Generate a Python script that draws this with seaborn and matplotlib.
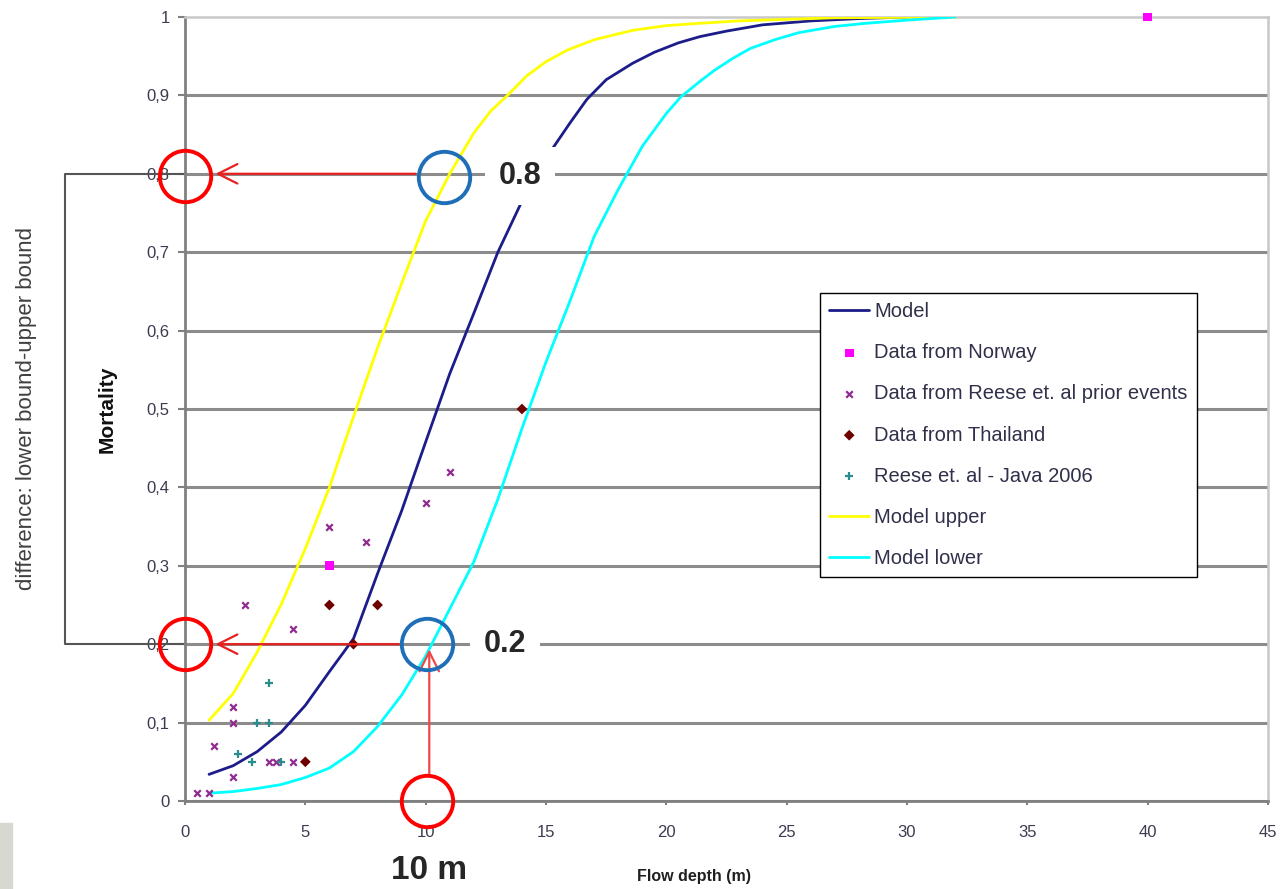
import numpy as np
import pandas as pd
import matplotlib.pyplot as plt
import seaborn as sns
from matplotlib.patches import Rectangle

# curves
model_x = [1, 2, 3, 4, 5, 6, 7, 8, 9, 10, 11, 12, 13, 14, 15, 16, 16.7, 17.5, 18.6, 19.5, 20.5, 21.4, 22.5,
           24, 26, 28, 30]
model_y = [0.034, 0.045, 0.063, 0.088, 0.122, 0.165, 0.207, 0.29, 0.37, 0.458, 0.545, 0.622, 0.70, 0.765,
           0.82, 0.865, 0.895, 0.92, 0.941, 0.955, 0.967, 0.975, 0.982, 0.99, 0.995, 0.998, 1.0]
upper_x = [1, 2, 3, 4, 5, 6, 7, 8, 9, 10, 11, 12, 12.7, 13.4, 14.2, 15, 15.9, 17, 18.6, 20, 21.4, 23, 25,
           27, 32]
upper_y = [0.103, 0.137, 0.19, 0.251, 0.322, 0.40, 0.49, 0.578, 0.66, 0.74, 0.80, 0.852, 0.88, 0.90,
           0.925, 0.943, 0.958, 0.971, 0.983, 0.989, 0.992, 0.995, 0.997, 0.999, 1.0]
lower_x = [1, 2, 3, 4, 5, 6, 7, 8, 9, 10, 11, 12, 13, 14, 15, 16, 17, 18, 19, 20, 20.6, 21.4, 22, 22.8,
           23.5, 24.5, 25.5, 27, 28.3, 30, 32]
lower_y = [0.01, 0.012, 0.016, 0.021, 0.03, 0.042, 0.063, 0.095, 0.135, 0.185, 0.245, 0.305, 0.385,
           0.475, 0.56, 0.638, 0.72, 0.78, 0.835, 0.877, 0.898, 0.918, 0.932, 0.948, 0.96, 0.971, 0.98,
           0.988, 0.992, 0.996, 1.0]

# observations
norway_x = [6, 40]
norway_y = [0.30, 1.0]
reese_x = [0.5, 1.0, 1.2, 2.0, 2.0, 2.0, 2.5, 3.5, 3.8, 4.5, 4.5, 6.0, 7.5, 10.0, 11.0]
reese_y = [0.01, 0.01, 0.07, 0.12, 0.10, 0.03, 0.25, 0.05, 0.05, 0.05, 0.22, 0.35, 0.33, 0.38, 0.42]
thai_x = [5, 6, 7, 8, 14]
thai_y = [0.05, 0.25, 0.20, 0.25, 0.50]
java_x = [2.2, 2.8, 3.0, 3.5, 3.5, 4.0]
java_y = [0.06, 0.05, 0.10, 0.10, 0.15, 0.05]

x_ticks = [0, 5, 10, 15, 20, 25, 30, 35, 40, 45]
y_ticks = [0, 0.1, 0.2, 0.3, 0.4, 0.5, 0.6, 0.7, 0.8, 0.9, 1.0]
y_ticklabels = ['0', '0,1', '0,2', '0,3', '0,4', '0,5', '0,6', '0,7', '0,8', '0,9', '1']

sns.set_theme(style='white')
plt.rcParams['font.family'] = ['Liberation Sans', 'DejaVu Sans']

fig = plt.figure(figsize=(12.85, 8.89), dpi=100)
ax = fig.add_axes([185 / 1285, 1 - 801 / 889, 1083 / 1285, 784 / 889])

sns.lineplot(x=model_x, y=model_y, ax=ax, color='#1c1c8a', lw=2.0, label='Model', zorder=3)
sns.lineplot(x=upper_x, y=upper_y, ax=ax, color='#ffff00', lw=2.0, label='Model upper', zorder=3)
sns.lineplot(x=lower_x, y=lower_y, ax=ax, color='#00ffff', lw=2.0, label='Model lower', zorder=3)

sns.scatterplot(x=norway_x, y=norway_y, ax=ax, marker='s', s=40, color='#ff00ff', edgecolor='none',
                label='Data from Norway', zorder=4, clip_on=False)
sns.scatterplot(x=reese_x, y=reese_y, ax=ax, marker='x', s=22, color='#8e2a8e', linewidth=1.6,
                label='Data from Reese et. al prior events', zorder=4)
sns.scatterplot(x=thai_x, y=thai_y, ax=ax, marker='D', s=30, color='#6e0000', edgecolor='none',
                label='Data from Thailand', zorder=4)
sns.scatterplot(x=java_x, y=java_y, ax=ax, marker='+', s=30, color='#2a8c8c', linewidth=1.6,
                label='Reese et. al - Java 2006', zorder=4)

ax.set_xlim(0, 45)
ax.set_ylim(0, 1)
ax.set_xticks(x_ticks)
ax.set_yticks(y_ticks)
ax.set_yticklabels(y_ticklabels)
ax.yaxis.grid(True, color='#8c8c8c', lw=2.2)
ax.set_axisbelow(True)
ax.get_ygridlines()[-1].set_visible(False)

for side in ['left', 'bottom']:
    ax.spines[side].set_color('#808080')
    ax.spines[side].set_linewidth(2)
for side in ['top', 'right']:
    ax.spines[side].set_color('#c8c8c8')
    ax.spines[side].set_linewidth(1.8)

ax.tick_params(axis='y', length=5, width=1.5, color='#808080', labelsize=12, labelcolor='#3c3c50', pad=6,
               left=True)
ax.tick_params(axis='x', length=3, width=1.5, color='#808080', labelsize=12, labelcolor='#3c3c50', pad=14,
               bottom=True)

ax.set_xlabel('Flow depth (m)', fontsize=11.5, fontweight='bold', color='#202020')
ax.xaxis.set_label_coords((694 - 185) / 1083, (801 - 869) / 784)
ax.set_ylabel('Mortality', fontsize=15, fontweight='bold', color='#101010')
ax.yaxis.set_label_coords((117 - 185) / 1083, 0.5)

fig.text(27 / 1285, 1 - 408 / 889, 'difference: lower bound-upper bound', rotation=90, fontsize=16,
         color='#404040', ha='center', va='center')

# legend in the original order
h, l = ax.get_legend_handles_labels()
order = ['Model', 'Data from Norway', 'Data from Reese et. al prior events', 'Data from Thailand',
         'Reese et. al - Java 2006', 'Model upper', 'Model lower']
hd = dict(zip(l, h))
leg = ax.legend([hd[k] for k in order], order, loc='upper left',
                bbox_to_anchor=((820 - 185) / 1083, (801 - 293) / 784), fontsize=14.5, frameon=True,
                fancybox=False, framealpha=1, edgecolor='#000000', labelspacing=1.1, handlelength=2.0,
                handletextpad=0.25, borderpad=0.45, borderaxespad=0)
leg.get_frame().set_linewidth(1.0)
for t in leg.get_texts():
    t.set_color('#30304a')

# bracket on the left
ax.plot([0, -5, -5, 0], [0.8, 0.8, 0.2, 0.2], color='#555555', lw=1.5, clip_on=False, zorder=2)

# red arrows
arrow = dict(arrowstyle='->,head_length=0.7,head_width=0.35', color='#e82020', lw=1.6, mutation_scale=20)
ax.annotate('', xy=(1.15, 0.8), xytext=(9.7, 0.8), arrowprops=arrow, zorder=5)
ax.annotate('', xy=(1.15, 0.2), xytext=(9.0, 0.2), arrowprops=arrow, zorder=5)
ax.annotate('', xy=(10.15, 0.197), xytext=(10.15, 0.031),
            arrowprops=dict(arrow, color='#f04848'), zorder=5)

# circles
ax.plot([0, 0, 10.05], [0.797, 0.2, 0.0], ls='none', marker='o', ms=37, mfc='none', mec='#ff0000',
        mew=2.8, clip_on=False, zorder=6)
ax.plot([10.76, 10.07], [0.796, 0.2], ls='none', marker='o', ms=37, mfc='none', mec='#1f6fb8',
        mew=2.8, clip_on=False, zorder=6)

# value labels
box = dict(boxstyle='square,pad=0.45', fc='white', ec='none')
ax.text(13.92, 0.797, '0.8', fontsize=22, fontweight='bold', ha='center', va='center', bbox=box, zorder=7)
ax.text(13.3, 0.2, '0.2', fontsize=22, fontweight='bold', ha='center', va='center', bbox=box, zorder=7)
ax.text(10.14, -0.089, '10 m', fontsize=24, fontweight='bold', ha='center', va='center', clip_on=False)

fig.patches.append(Rectangle((0, 0), 12 / 1285, 66 / 889, transform=fig.transFigure, color='#d8d8d2',
                             zorder=0))

fig.savefig('out.png', dpi=100)
